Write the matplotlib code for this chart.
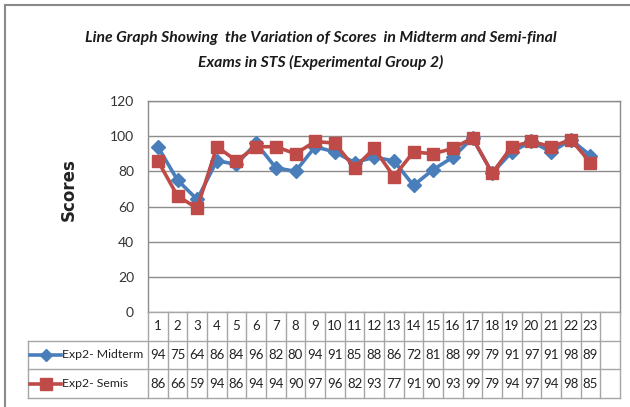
import matplotlib
matplotlib.use("Agg")
import matplotlib.pyplot as plt
from matplotlib.lines import Line2D

categories = [str(i) for i in range(1, 24)]
midterm = [94, 75, 64, 86, 84, 96, 82, 80, 94, 91, 85, 88, 86, 72, 81, 88, 99, 79, 91, 97, 91, 98, 89]
semis = [86, 66, 59, 94, 86, 94, 94, 90, 97, 96, 82, 93, 77, 91, 90, 93, 99, 79, 94, 97, 94, 98, 85]
series_names = ["Exp2- Midterm", "Exp2- Semis"]
yticks = [0, 20, 40, 60, 80, 100, 120]
title = "Line Graph Showing  the Variation of Scores  in Midterm and Semi-final\nExams in STS (Experimental Group 2)"
ylabel = "Scores"

W, H = 630, 407
BLUE = "#4A7EBB"
RED = "#BE4B48"
GRID = "#8C8C8C"
TGRID = "#A6A6A6"
FONT = ["Lato", "DejaVu Sans"]

fig = plt.figure(figsize=(W / 100, H / 100), dpi=100)

def fx(x):
    return x / W

def fy(y):
    return 1 - y / H

# outer chart border (left and top visible)
fig.add_artist(Line2D([fx(5), fx(5)], [fy(5), fy(407)], color="#8A8A8A", lw=1.5, transform=fig.transFigure))
fig.add_artist(Line2D([fx(5), fx(630)], [fy(5), fy(5)], color="#8A8A8A", lw=1.5, transform=fig.transFigure))

# main plot area
L, R, T, B = 148, 620, 101, 312
ax = fig.add_axes([fx(L), fy(B), fx(R - L), (B - T) / H])
n = len(categories)
xs = list(range(1, n + 1))
ax.set_xlim(0.5, n + 1.5)
ax.set_ylim(0, 120)
ax.set_yticks(yticks)
ax.set_yticklabels([str(v) for v in yticks], fontfamily=FONT, fontsize=10, color="#333333")
ax.tick_params(axis="y", length=0, pad=10)
ax.set_xticks([])
ax.yaxis.grid(True, color=GRID, lw=1)
ax.set_axisbelow(True)
for s in ["left", "top", "right"]:
    ax.spines[s].set_color(GRID)
    ax.spines[s].set_linewidth(1)
ax.spines["bottom"].set_visible(False)

ax.plot(xs, midterm, color=BLUE, lw=2.6, marker="D", ms=7, mfc=BLUE, mec=BLUE, zorder=3)
ax.plot(xs, semis, color=RED, lw=2.6, marker="s", ms=9, mfc=RED, mec=RED, zorder=4)

# title and y label
fig.text(fx(321), fy(38), title.split("\n")[0], ha="center", va="center",
         fontfamily=FONT, fontstyle="italic", fontweight="bold", fontsize=11.3, color="#1a1a1a")
fig.text(fx(321), fy(62), title.split("\n")[1], ha="center", va="center",
         fontfamily=FONT, fontstyle="italic", fontweight="bold", fontsize=11.3, color="#1a1a1a")
fig.text(fx(69), fy(190), ylabel, rotation=90, ha="center", va="center",
         fontfamily=["DejaVu Sans"], fontweight="bold", fontsize=12, color="#222222")

# data table below, sharing the category positions
TL, TT, TB = 28, 312, 398
tab = fig.add_axes([fx(TL), fy(TB), fx(R - TL), (TB - TT) / H])
unit = (R - L) / (n + 1)
xl = 0.5 - (L - TL) / unit
tab.set_xlim(xl, n + 1.5)
tab.set_ylim(0, 3)
tab.axis("off")

def hline(y, x0, x1):
    tab.plot([x0, x1], [y, y], color=TGRID, lw=1, clip_on=False)

def vline(x, y0, y1):
    tab.plot([x, x], [y0, y1], color=TGRID, lw=1, clip_on=False)

hline(3, 0.5, n + 1.5)
for y in (2, 1, 0):
    hline(y, xl, n + 1.5)
for k in range(n + 2):
    vline(k + 0.5, 0, 3)
vline(xl, 0, 2)

for i, c in enumerate(categories):
    tab.text(xs[i], 2.5, c, ha="center", va="center", fontfamily=FONT, fontsize=9.5, color="#222222")
for row_y, vals in ((1.5, midterm), (0.5, semis)):
    for i, v in enumerate(vals):
        tab.text(xs[i], row_y, str(v), ha="center", va="center", fontfamily=FONT, fontsize=9.5, color="#222222")

# legend keys inside the table
key_x0 = xl + 2 / unit
key_x1 = xl + 33 / unit
key_mid = (key_x0 + key_x1) / 2
for row_y, name, col, mk, ms in ((1.5, series_names[0], BLUE, "D", 6),
                                  (0.5, series_names[1], RED, "s", 9)):
    tab.plot([key_x0, key_x1], [row_y, row_y], color=col, lw=2.6, clip_on=False)
    tab.plot([key_mid], [row_y], marker=mk, ms=ms, color=col, clip_on=False)
    tab.text(key_x1 + 1 / unit, row_y, name, ha="left", va="center",
             fontfamily=FONT, fontsize=8.8, color="#222222")

fig.savefig("out.png", dpi=100)
